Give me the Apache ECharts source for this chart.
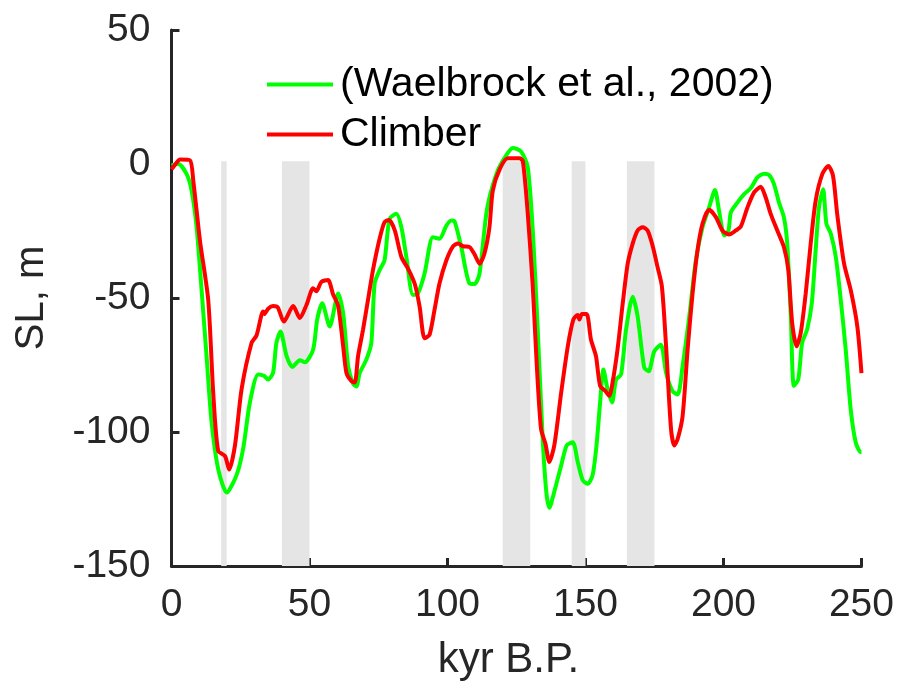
<!DOCTYPE html>
<html>
<head>
<meta charset="utf-8">
<script src="https://cdn.jsdelivr.net/npm/echarts@6/dist/echarts.min.js"></script>
<style>
html,body{margin:0;padding:0;background:#fff;}
#chart{width:897px;height:686px;}
</style>
</head>
<body>
<div id="chart"></div>
<script>
// ---- data ----
const seriesNames = ['(Waelbrock et al., 2002)', 'Climber'];
const xTicks = [0, 50, 100, 150, 200, 250];
const yTicks = [-150, -100, -50, 0, 50];

const waelbrockKyr = [0,2.5,5.5,7.3,9.1,10.9,12.7,14.5,16.9,20,23.6,26,28.4,31.4,33.5,35,36.8,38,39.5,41.7,43.8,46.5,48.3,51.3,52.8,54.6,57.3,60.4,62.2,64,65.8,67,68.2,70.6,72.4,73.6,75.4,77.2,79,81.5,83.3,85.1,87.5,89.3,91.7,94.7,97.1,99.6,101.4,102.6,105,108,109.8,111.6,114.3,117.7,120.7,123.7,126.7,129.1,130.9,132.7,134.5,135.8,136.9,138.7,141.2,143.2,145.4,147.2,149,150.8,152.6,154,155.3,156.5,158,159.6,161.1,162.9,164.7,167.1,168.9,171.3,172.9,174.9,177.3,179.2,181.5,183.4,185.2,187.6,190,192.4,194.8,196.9,198.4,200.3,201.8,202.7,205.1,207.5,209.9,212.3,214.7,216.5,218.3,220.1,221.9,223.1,224.4,225.5,227.1,228.5,230.3,232,233.4,234.6,236.1,237.3,238.9,240.7,242.5,244.3,246.1,247.9,249.7,250];
const waelbrockSL = [-0.5,0,-3.8,-10,-23.6,-47,-71.7,-96,-113.7,-122.6,-116,-106,-89,-78.5,-79,-80.4,-77.9,-66.8,-62.5,-71.7,-75.7,-73.2,-74,-69.3,-58,-52,-60.6,-48.3,-55.7,-75.4,-82,-83,-78,-73,-66.8,-44.6,-39.6,-35.9,-20.5,-18.6,-23.6,-34.7,-48.9,-48.3,-40.9,-27.3,-27.9,-23,-21.1,-21.5,-31,-44.6,-44.8,-40.9,-17,-3.8,2.3,6,4.6,-1.4,-24.8,-61.8,-102.6,-122.3,-128.3,-122.3,-112.5,-105,-103.8,-111.2,-118,-119.3,-116,-105,-89,-76.7,-84,-89,-80.4,-78.5,-61.8,-49.5,-56.9,-76,-77.3,-69.9,-67.4,-77.9,-84.7,-86,-75.4,-56.9,-35.9,-23.6,-16.2,-9.7,-17.4,-26.7,-24.8,-18,-14.3,-11.2,-9,-5,-3.6,-4.1,-7.5,-14.3,-19.9,-29.7,-56.9,-82.8,-80.4,-66.8,-61.8,-52,-32.2,-16.2,-9.4,-22.3,-26,-34.7,-50.7,-69.3,-91.5,-103.8,-107.5,-107.5];

const climberKyr = [0,1.5,3.1,6.7,7.9,10.3,13.3,15.1,16.9,19.4,20.9,23,25.4,29,30.8,33.2,33.6,35,36.8,38.5,40.7,44.1,46.5,48.9,51.3,52.5,54.3,56.7,58.5,60.4,62.2,63.4,65.2,66.4,67.6,69.4,71.2,73,75.4,77.2,78.8,80.9,83.3,85.7,88.1,89.9,91.7,93.5,95.3,97.1,99.6,102,103.8,105.6,108,109.8,111.6,113.4,115.2,116.4,118.9,121.9,126.1,127.3,129.1,130.9,132.3,133.9,135.5,136.9,138.7,141.2,143.6,145.6,147.2,147.8,148.7,150.4,152,153.8,155.3,157.2,158.6,159.8,161.6,163.5,165.3,167.1,168.9,170.7,172.5,174.3,176.1,177.7,179.2,181,182.2,183.4,185.2,187,188.8,190.6,192.4,194.8,197.3,199.6,202,204.5,206.3,208.7,211.1,213.5,215.3,217.1,219.5,221.9,223.5,224.9,226.5,228,229.8,231.6,233.4,235.8,238,239.7,241.2,243.7,246.1,248.5,250];
const climberSL = [-2,0,1.7,1.4,-6.3,-28.5,-50.7,-85,-107,-109,-114,-105,-84,-66.8,-64,-55,-56,-54,-53,-53.5,-58.8,-53,-57.5,-52.6,-46.4,-47.5,-44,-43.3,-48.5,-53,-68,-78,-81,-81.5,-71.7,-61.8,-50.7,-39.6,-27.9,-21.7,-20.9,-24.8,-34.7,-39,-44.6,-53.2,-65,-63.7,-54.4,-44.6,-35.9,-30.7,-29.7,-30.7,-31,-33.7,-37.2,-33.4,-23.6,-10,-2,2.1,2.1,1.1,-18.6,-45.8,-74,-98.9,-104.4,-111.2,-105,-85.3,-68,-58.1,-56.3,-58,-56,-56,-65.6,-71.7,-82.8,-84.7,-86.5,-81.6,-69.3,-52,-37.2,-29.7,-24.8,-23.6,-24.8,-30.4,-38.4,-45.8,-68,-98.9,-105,-102.6,-94,-69.3,-48.3,-32.2,-22.3,-17.1,-19.9,-24.8,-26.3,-24.8,-23.3,-16.2,-10.6,-8.5,-12.5,-18.6,-24.8,-31,-39.6,-59.4,-68,-63,-48.3,-29.7,-13.7,-3.8,-0.7,-4.4,-18.6,-37.2,-47,-60.6,-78];

// shaded intervals [start, end] in kyr
const bandStart = [18, 40, 120, 145, 165];
const bandEnd   = [20, 50, 130, 150, 175];
const bandTop = 1, bandBottom = -150;

// ---- chart ----
const zip = (a, b) => a.map((v, i) => [v, b[i]]);
const axisColor = '#262626';
const font = 'Liberation Sans, Arial, Helvetica, sans-serif';

const chart = echarts.init(document.getElementById('chart'), null, {renderer: 'canvas'});
chart.setOption({
  animation: false,
  backgroundColor: '#ffffff',
  grid: {left: 171.5, right: 35, top: 30, bottom: 119, containLabel: false},
  legend: {
    data: seriesNames,
    orient: 'vertical',
    left: 262,
    top: 59,
    icon: 'rect',
    itemWidth: 66,
    itemHeight: 4,
    itemGap: 9,
    textStyle: {fontFamily: font, fontSize: 41, color: '#000', padding: [0,0,0,2]},
    inactiveColor: '#ccc'
  },
  xAxis: {
    type: 'value', min: 0, max: 250, interval: 50,
    name: 'kyr B.P.', nameLocation: 'middle', nameGap: 73,
    nameTextStyle: {fontFamily: font, fontSize: 42, color: axisColor, padding: [0, 16, 0, 0]},
    axisLine: {show: true, onZero: false, lineStyle: {color: axisColor, width: 3}},
    axisTick: {show: true, inside: true, length: 8, lineStyle: {color: axisColor, width: 3}},
    axisLabel: {fontFamily: font, fontSize: 39, color: axisColor, margin: 20,
      formatter: v => xTicks.includes(v) ? String(v) : ''},
    splitLine: {show: false}
  },
  yAxis: {
    type: 'value', min: -150, max: 50, interval: 50,
    name: 'SL, m', nameLocation: 'middle', nameGap: 120, nameRotate: 90,
    nameTextStyle: {fontFamily: font, fontSize: 40, color: axisColor},
    axisLine: {show: true, onZero: false, lineStyle: {color: axisColor, width: 3}},
    axisTick: {show: true, inside: true, length: 8, lineStyle: {color: axisColor, width: 3}},
    axisLabel: {fontFamily: font, fontSize: 39, color: axisColor, margin: 21,
      formatter: v => yTicks.includes(v) ? String(v) : ''},
    splitLine: {show: false}
  },
  series: [
    {
      name: 'bands', type: 'line', data: [], silent: true, z: 1,
      markArea: {
        silent: true,
        itemStyle: {color: '#e5e5e5'},
        data: bandStart.map((s, i) => [{xAxis: s, yAxis: bandTop}, {xAxis: bandEnd[i], yAxis: bandBottom}])
      }
    },
    {
      name: seriesNames[0], type: 'line', data: zip(waelbrockKyr, waelbrockSL),
      symbol: 'none', smooth: 0.25, z: 3,
      lineStyle: {color: '#00ff00', width: 4}, itemStyle: {color: '#00ff00'}
    },
    {
      name: seriesNames[1], type: 'line', data: zip(climberKyr, climberSL),
      symbol: 'none', smooth: 0.25, z: 4,
      lineStyle: {color: '#ff0000', width: 4}, itemStyle: {color: '#ff0000'}
    }
  ]
});
</script>
</body>
</html>
